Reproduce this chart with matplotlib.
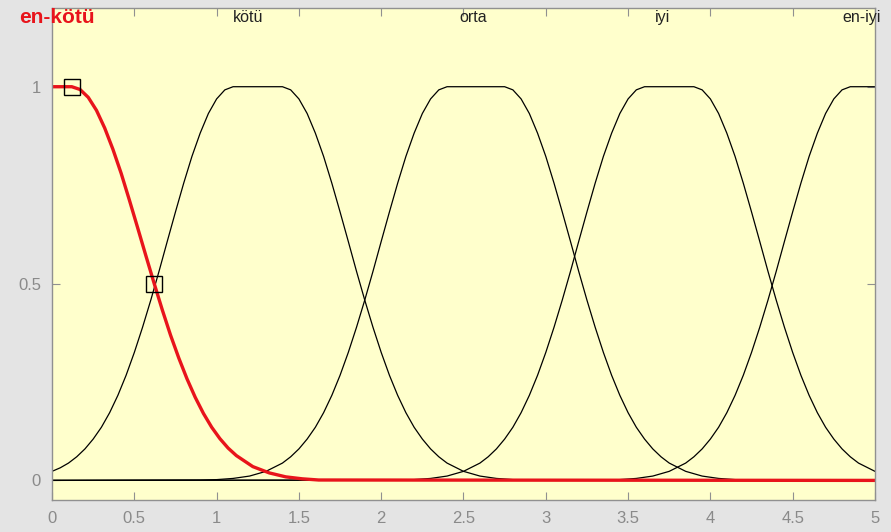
import matplotlib
matplotlib.use('Agg')
import matplotlib.pyplot as plt

# membership function curves
enkotu_x = [0.0, 0.12, 0.17, 0.22, 0.27, 0.32, 0.37, 0.42, 0.47, 0.52, 0.57, 0.62,
            0.67, 0.72, 0.77, 0.82, 0.87, 0.92, 0.97, 1.02, 1.07, 1.12, 1.22, 1.32,
            1.42, 1.52, 1.62, 5.0]
enkotu_y = [1.0, 1.0, 0.993, 0.973, 0.940, 0.895, 0.841, 0.780, 0.712, 0.642, 0.571, 0.501,
            0.433, 0.369, 0.311, 0.258, 0.211, 0.170, 0.135, 0.106, 0.082, 0.063, 0.035, 0.019,
            0.009, 0.004, 0.001, 0.0]

kotu_x = [0.0, 0.05, 0.10, 0.15, 0.20, 0.25, 0.30, 0.35, 0.40, 0.45, 0.50, 0.55, 0.60,
          0.65, 0.70, 0.75, 0.80, 0.85, 0.90, 0.95, 1.00, 1.05, 1.10,
          1.40, 1.45, 1.50, 1.55, 1.60, 1.65, 1.70, 1.75, 1.80, 1.85, 1.90, 1.95, 2.00,
          2.05, 2.10, 2.15, 2.20, 2.25, 2.30, 2.35, 2.40, 2.50, 2.60, 2.70, 2.80, 2.90, 5.0]
kotu_y = [0.023, 0.032, 0.044, 0.060, 0.080, 0.105, 0.135, 0.172, 0.216, 0.267, 0.325, 0.389, 0.458,
          0.531, 0.607, 0.682, 0.755, 0.823, 0.882, 0.932, 0.969, 0.992, 1.0,
          1.0, 0.992, 0.969, 0.932, 0.882, 0.823, 0.755, 0.682, 0.607, 0.531, 0.458, 0.389, 0.325,
          0.267, 0.216, 0.172, 0.135, 0.105, 0.080, 0.060, 0.044, 0.023, 0.011, 0.005, 0.002, 0.001, 0.0]

orta_x = [0.0, 0.90, 1.00, 1.10, 1.20, 1.30, 1.40, 1.45, 1.50, 1.55, 1.60, 1.65, 1.70,
          1.75, 1.80, 1.85, 1.90, 1.95, 2.00, 2.05, 2.10, 2.15, 2.20, 2.25, 2.30, 2.35, 2.40,
          2.75, 2.80, 2.85, 2.90, 2.95, 3.00, 3.05, 3.10, 3.15, 3.20, 3.25, 3.30, 3.35,
          3.40, 3.45, 3.50, 3.55, 3.60, 3.65, 3.70, 3.75, 3.85, 3.95, 4.05, 4.15, 4.25, 5.0]
orta_y = [0.0, 0.001, 0.002, 0.005, 0.011, 0.023, 0.044, 0.060, 0.080, 0.105, 0.135, 0.172, 0.216,
          0.267, 0.325, 0.389, 0.458, 0.531, 0.607, 0.682, 0.755, 0.823, 0.882, 0.932, 0.969, 0.992, 1.0,
          1.0, 0.992, 0.969, 0.932, 0.882, 0.823, 0.755, 0.682, 0.607, 0.531, 0.458, 0.389, 0.325,
          0.267, 0.216, 0.172, 0.135, 0.105, 0.080, 0.060, 0.044, 0.023, 0.011, 0.005, 0.002, 0.001, 0.0]

iyi_x = [0.0, 2.10, 2.20, 2.30, 2.40, 2.50, 2.60, 2.65, 2.70, 2.75, 2.80, 2.85, 2.90,
         2.95, 3.00, 3.05, 3.10, 3.15, 3.20, 3.25, 3.30, 3.35, 3.40, 3.45, 3.50, 3.55, 3.60,
         3.90, 3.95, 4.00, 4.05, 4.10, 4.15, 4.20, 4.25, 4.30, 4.35, 4.40, 4.45, 4.50,
         4.55, 4.60, 4.65, 4.70, 4.75, 4.80, 4.85, 4.90, 5.0]
iyi_y = [0.0, 0.001, 0.002, 0.005, 0.011, 0.023, 0.044, 0.060, 0.080, 0.105, 0.135, 0.172, 0.216,
         0.267, 0.325, 0.389, 0.458, 0.531, 0.607, 0.682, 0.755, 0.823, 0.882, 0.932, 0.969, 0.992, 1.0,
         1.0, 0.992, 0.969, 0.932, 0.882, 0.823, 0.755, 0.682, 0.607, 0.531, 0.458, 0.389, 0.325,
         0.267, 0.216, 0.172, 0.135, 0.105, 0.080, 0.060, 0.044, 0.023]

eniyi_x = [0.0, 3.35, 3.45, 3.55, 3.65, 3.75, 3.85, 3.90, 3.95, 4.00, 4.05, 4.10, 4.15,
           4.20, 4.25, 4.30, 4.35, 4.40, 4.45, 4.50, 4.55, 4.60, 4.65, 4.70, 4.75, 4.80, 4.85, 5.0]
eniyi_y = [0.0, 0.001, 0.002, 0.005, 0.011, 0.023, 0.044, 0.060, 0.080, 0.105, 0.135, 0.172, 0.216,
           0.267, 0.325, 0.389, 0.458, 0.531, 0.607, 0.682, 0.755, 0.823, 0.882, 0.932, 0.969, 0.992, 1.0, 1.0]

# selected-MF handles
marker_x = [0.12, 0.62]
marker_y = [1.0, 0.5]

labels = ['en-kötü', 'kötü', 'orta', 'iyi', 'en-iyi']
label_x = [0.03, 1.19, 2.56, 3.71, 4.92]
label_y = 1.175

xticks = [0, 0.5, 1, 1.5, 2, 2.5, 3, 3.5, 4, 4.5, 5]
xticklabels = ['0', '0.5', '1', '1.5', '2', '2.5', '3', '3.5', '4', '4.5', '5']
yticks = [0, 0.5, 1]
yticklabels = ['0', '0.5', '1']

plt.rcParams['font.family'] = ['Liberation Sans', 'DejaVu Sans']

fig = plt.figure(figsize=(8.91, 5.32), dpi=100)
fig.patch.set_facecolor('#e4e4e4')
ax = fig.add_axes([0.0584, 0.060, 0.9236, 0.925])
ax.set_facecolor('#ffffcc')

for xs, ys in [(orta_x, orta_y), (iyi_x, iyi_y), (eniyi_x, eniyi_y), (kotu_x, kotu_y)]:
    ax.plot(xs, ys, color='black', lw=0.9)
ax.plot(enkotu_x, enkotu_y, color='#e8141b', lw=2.4)
ax.plot(marker_x, marker_y, ls='none', marker='s', ms=11, mfc='none', mec='black', mew=1.0)

for i, lab in enumerate(labels):
    if i == 0:
        ax.text(label_x[i], label_y, lab, color='#e8141b', fontsize=15, fontweight='bold',
                ha='center', va='center', clip_on=False)
    else:
        ax.text(label_x[i], label_y, lab, color='#222222', fontsize=11.5,
                ha='center', va='center', clip_on=False)

ax.set_xlim(0, 5)
ax.set_ylim(-0.05, 1.2)
ax.set_xticks(xticks)
ax.set_xticklabels(xticklabels)
ax.set_yticks(yticks)
ax.set_yticklabels(yticklabels)
ax.tick_params(direction='in', length=6, color='#909090', labelcolor='#8a8a8a',
               labelsize=12, top=True, right=True, pad=8)
for sp in ax.spines.values():
    sp.set_color('#909090')
    sp.set_linewidth(1.0)

fig.savefig('out.png', dpi=100, facecolor=fig.get_facecolor())
